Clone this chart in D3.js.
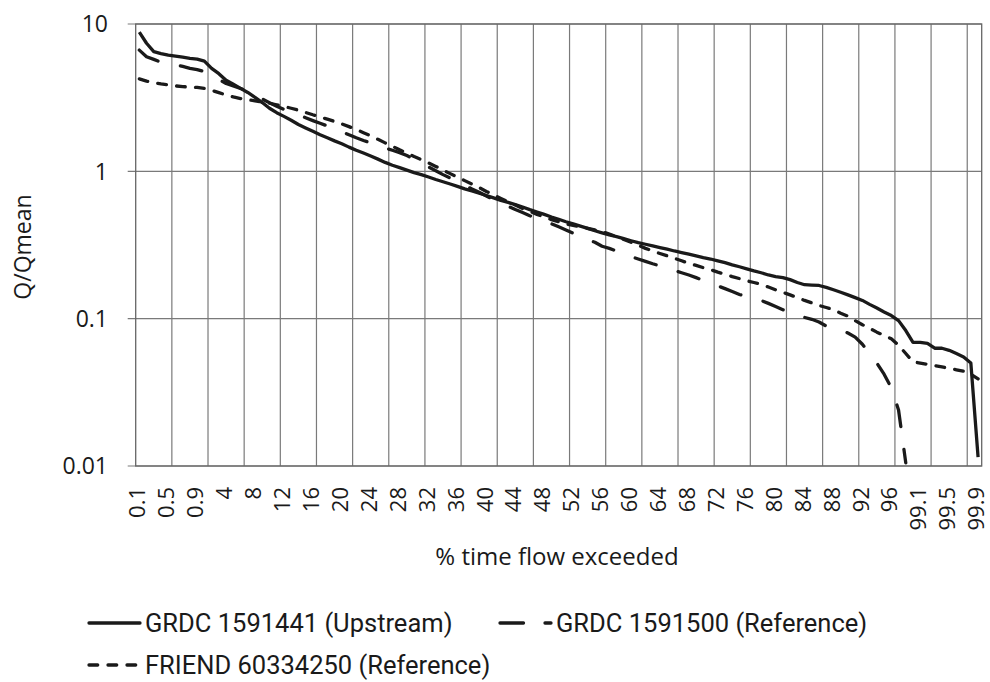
<!DOCTYPE html>
<html>
<head>
<meta charset="utf-8">
<script src="https://cdn.jsdelivr.net/npm/d3@7"></script>
<style>
  body { margin: 0; background: #fff; }
  text { fill: #1a1a1a; }
</style>
</head>
<body>
<div id="chart"></div>
<script>
// % time flow exceeded (category axis)
const categories = [
  0.1, 0.2, 0.3, 0.4, 0.5, 0.6, 0.7, 0.8, 0.9,
  1, 2, 3, 4, 5, 6, 7, 8, 9, 10, 11, 12, 13, 14, 15, 16, 17, 18, 19, 20,
  21, 22, 23, 24, 25, 26, 27, 28, 29, 30, 31, 32, 33, 34, 35, 36, 37, 38, 39, 40,
  41, 42, 43, 44, 45, 46, 47, 48, 49, 50, 51, 52, 53, 54, 55, 56, 57, 58, 59, 60,
  61, 62, 63, 64, 65, 66, 67, 68, 69, 70, 71, 72, 73, 74, 75, 76, 77, 78, 79, 80,
  81, 82, 83, 84, 85, 86, 87, 88, 89, 90, 91, 92, 93, 94, 95, 96, 97, 98, 99,
  99.1, 99.2, 99.3, 99.4, 99.5, 99.6, 99.7, 99.8, 99.9
];

const tickLabels = ["0.1", "0.5", "0.9", "4", "8", "12", "16", "20", "24", "28", "32", "36", "40",
  "44", "48", "52", "56", "60", "64", "68", "72", "76", "80", "84", "88", "92", "96",
  "99.1", "99.5", "99.9"];

const yTicks = [10, 1, 0.1, 0.01];
const yTickLabels = ["10", "1", "0.1", "0.01"];

// Q/Qmean, GRDC 1591441 (Upstream)
const grdcUpstream = [
  8.8, 7.4, 6.5, 6.3, 6.15, 6.05, 5.95, 5.85, 5.78, 5.6,
  5.0, 4.6, 4.15, 3.9, 3.66, 3.43, 3.18, 2.93, 2.68, 2.5,
  2.36, 2.22, 2.08, 1.97, 1.87, 1.77, 1.69, 1.61, 1.54, 1.46,
  1.39, 1.33, 1.27, 1.21, 1.15, 1.1, 1.06, 1.02, 0.98, 0.95,
  0.915, 0.88, 0.85, 0.82, 0.79, 0.76, 0.735, 0.71, 0.685, 0.66,
  0.635, 0.615, 0.595, 0.573, 0.55, 0.53, 0.51, 0.49, 0.473, 0.455,
  0.44, 0.425, 0.41, 0.395, 0.382, 0.37, 0.36, 0.349, 0.338, 0.328,
  0.32, 0.312, 0.304, 0.296, 0.288, 0.281, 0.274, 0.267, 0.26, 0.254,
  0.247, 0.24, 0.232, 0.225, 0.218, 0.211, 0.205, 0.198, 0.193, 0.19,
  0.184, 0.176, 0.17, 0.169, 0.168, 0.163, 0.157, 0.151, 0.145, 0.139,
  0.133, 0.125, 0.118, 0.111, 0.105, 0.097, 0.083, 0.069, 0.069, 0.068,
  0.063, 0.063, 0.061, 0.058, 0.055, 0.05, 0.0115
];

// GRDC 1591500 (Reference) - falls below 0.01 after 98 %
const grdcReference = [
  6.65, 6.0, 5.75, 5.5, 5.4, 5.3, 5.15, 5.0, 4.9, 4.75,
  4.5, 4.2, 3.95, 3.8, 3.65, 3.5, 3.3, 3.1, 2.92, 2.77,
  2.63, 2.52, 2.42, 2.31, 2.21, 2.12, 2.03, 1.94, 1.86, 1.77,
  1.69, 1.62, 1.56, 1.5, 1.44, 1.39, 1.34, 1.28, 1.21, 1.14,
  1.07, 1.01, 0.95, 0.9, 0.85, 0.8, 0.76, 0.72, 0.68, 0.64,
  0.61, 0.58, 0.55, 0.525, 0.5, 0.48, 0.46, 0.44, 0.42, 0.4,
  0.38, 0.36, 0.345, 0.33, 0.31, 0.3, 0.288, 0.275, 0.264, 0.254,
  0.245, 0.236, 0.228, 0.22, 0.212, 0.205, 0.198, 0.19, 0.182, 0.174,
  0.167, 0.16, 0.153, 0.146, 0.141, 0.137, 0.133, 0.127, 0.121, 0.115,
  0.111, 0.107, 0.102, 0.099, 0.095, 0.089, 0.085, 0.083, 0.08, 0.075,
  0.067, 0.058, 0.05, 0.042, 0.034, 0.024, 0.0105, null, null, null,
  null, null, null, null, null, null, null
];

// FRIEND 60334250 (Reference)
const friendReference = [
  4.24, 4.1, 4.0, 3.92, 3.86, 3.8, 3.76, 3.73, 3.71, 3.65,
  3.55, 3.42, 3.3, 3.2, 3.12, 3.06, 3.01, 2.96, 2.9, 2.83,
  2.76, 2.68, 2.6, 2.51, 2.42, 2.34, 2.26, 2.18, 2.1, 2.01,
  1.92, 1.83, 1.74, 1.65, 1.56, 1.48, 1.4, 1.33, 1.26, 1.2,
  1.14, 1.08, 1.02, 0.965, 0.915, 0.865, 0.82, 0.775, 0.73, 0.69,
  0.655, 0.62, 0.59, 0.56, 0.535, 0.51, 0.49, 0.47, 0.455, 0.44,
  0.43, 0.42, 0.41, 0.4, 0.39, 0.375, 0.36, 0.345, 0.33, 0.315,
  0.3, 0.288, 0.277, 0.267, 0.257, 0.247, 0.237, 0.23, 0.222, 0.215,
  0.207, 0.2, 0.193, 0.187, 0.181, 0.176, 0.171, 0.164, 0.157, 0.151,
  0.145, 0.139, 0.133, 0.128, 0.123, 0.119, 0.115, 0.109, 0.104, 0.097,
  0.091, 0.086, 0.081, 0.077, 0.073, 0.066, 0.058, 0.051, 0.05, 0.049,
  0.048, 0.047, 0.046, 0.045, 0.044, 0.042, 0.039
];

const seriesNames = ["GRDC 1591441 (Upstream)", "GRDC 1591500 (Reference)", "FRIEND 60334250 (Reference)"];

const width = 990, height = 682;
const plot = { left: 135.7, right: 981.7, top: 24, bottom: 466 };
const ink = "#1a1a1a";
const gridColor = "#7a7a7a";
const axisFont = "'Open Sans', 'Noto Sans', sans-serif";
const longDash = "22,23", shortDash = "8.7,10.3";

const svg = d3.select("#chart")
  .append("svg")
  .attr("width", width)
  .attr("height", height);

const x = d3.scaleBand()
  .domain(categories)
  .range([plot.left, plot.right])
  .padding(0);

const y = d3.scaleLog()
  .domain([0.01, 10])
  .range([plot.bottom, plot.top]);

const cx = c => x(c) + x.bandwidth() / 2;

// vertical gridlines every 5 categories
const grid = svg.append("g");
grid.selectAll("line.v")
  .data(categories.filter((c, i) => i > 0 && i % 5 === 0))
  .join("line")
  .attr("class", "v")
  .attr("x1", d => x(d)).attr("x2", d => x(d))
  .attr("y1", plot.top).attr("y2", plot.bottom)
  .attr("stroke", gridColor).attr("stroke-width", 1.2);

// horizontal gridlines at decades, with short outward ticks
grid.selectAll("line.h")
  .data(yTicks)
  .join("line")
  .attr("class", "h")
  .attr("x1", plot.left - 8).attr("x2", plot.right)
  .attr("y1", d => y(d)).attr("y2", d => y(d))
  .attr("stroke", gridColor).attr("stroke-width", 1.2);

// plot frame
svg.append("rect")
  .attr("x", plot.left).attr("y", plot.top)
  .attr("width", plot.right - plot.left)
  .attr("height", plot.bottom - plot.top)
  .attr("fill", "none")
  .attr("stroke", "#666").attr("stroke-width", 1.3);

// y tick labels
svg.append("g").selectAll("text")
  .data(yTicks)
  .join("text")
  .attr("x", 108)
  .attr("y", d => y(d))
  .attr("dy", "0.36em")
  .attr("text-anchor", "end")
  .style("font-family", axisFont)
  .style("font-size", "23px")
  .text((d, i) => yTickLabels[i]);

// x tick labels (every 4th category), rotated
svg.append("g").selectAll("text")
  .data(tickLabels)
  .join("text")
  .attr("transform", d => `translate(${cx(+d)},487) rotate(-90)`)
  .attr("dy", "0.28em")
  .attr("text-anchor", "end")
  .style("font-family", axisFont)
  .style("font-size", "22px")
  .text(d => d);

// axis titles
svg.append("text")
  .attr("transform", "translate(23,247) rotate(-90)")
  .attr("dy", "0.36em")
  .attr("text-anchor", "middle")
  .style("font-family", axisFont)
  .style("font-size", "23px")
  .text("Q/Qmean");

svg.append("text")
  .attr("x", 557)
  .attr("y", 565)
  .attr("text-anchor", "middle")
  .style("font-family", axisFont)
  .style("font-size", "24px")
  .text("% time flow exceeded");

// series
const series = [
  { name: seriesNames[0], values: grdcUpstream, dash: null },
  { name: seriesNames[1], values: grdcReference, dash: longDash },
  { name: seriesNames[2], values: friendReference, dash: shortDash }
];

const line = d3.line()
  .defined(d => d.v != null)
  .x(d => cx(d.c))
  .y(d => y(d.v));

svg.append("clipPath").attr("id", "plot-clip")
  .append("rect")
  .attr("x", plot.left).attr("y", plot.top)
  .attr("width", plot.right - plot.left)
  .attr("height", plot.bottom - plot.top);

svg.append("g")
  .attr("clip-path", "url(#plot-clip)")
  .selectAll("path")
  .data(series)
  .join("path")
  .attr("d", s => line(s.values.map((v, i) => ({ c: categories[i], v: v }))))
  .attr("fill", "none")
  .attr("stroke", ink)
  .attr("stroke-width", 3.3)
  .attr("stroke-linejoin", "round")
  .attr("stroke-linecap", s => s.dash ? "round" : "butt")
  .attr("stroke-dasharray", s => s.dash);

// legend
const sampleLen = 51;
const legendItems = [
  { name: seriesNames[0], x: 89, y: 623, dash: null },
  { name: seriesNames[1], x: 500, y: 623, dash: "23.5,21.5" },
  { name: seriesNames[2], x: 89, y: 665, dash: shortDash }
];

const legend = svg.append("g").selectAll("g")
  .data(legendItems)
  .join("g");

legend.append("line")
  .attr("x1", d => d.x).attr("x2", d => d.x + sampleLen)
  .attr("y1", d => d.y).attr("y2", d => d.y)
  .attr("stroke", ink)
  .attr("stroke-width", 3.3)
  .attr("stroke-linecap", "round")
  .attr("stroke-dasharray", d => d.dash);

legend.append("text")
  .attr("x", d => d.x + sampleLen + 5)
  .attr("y", d => d.y)
  .attr("dy", "0.36em")
  .style("font-family", "Roboto, sans-serif")
  .style("font-size", "25.5px")
  .text(d => d.name);
</script>
</body>
</html>
